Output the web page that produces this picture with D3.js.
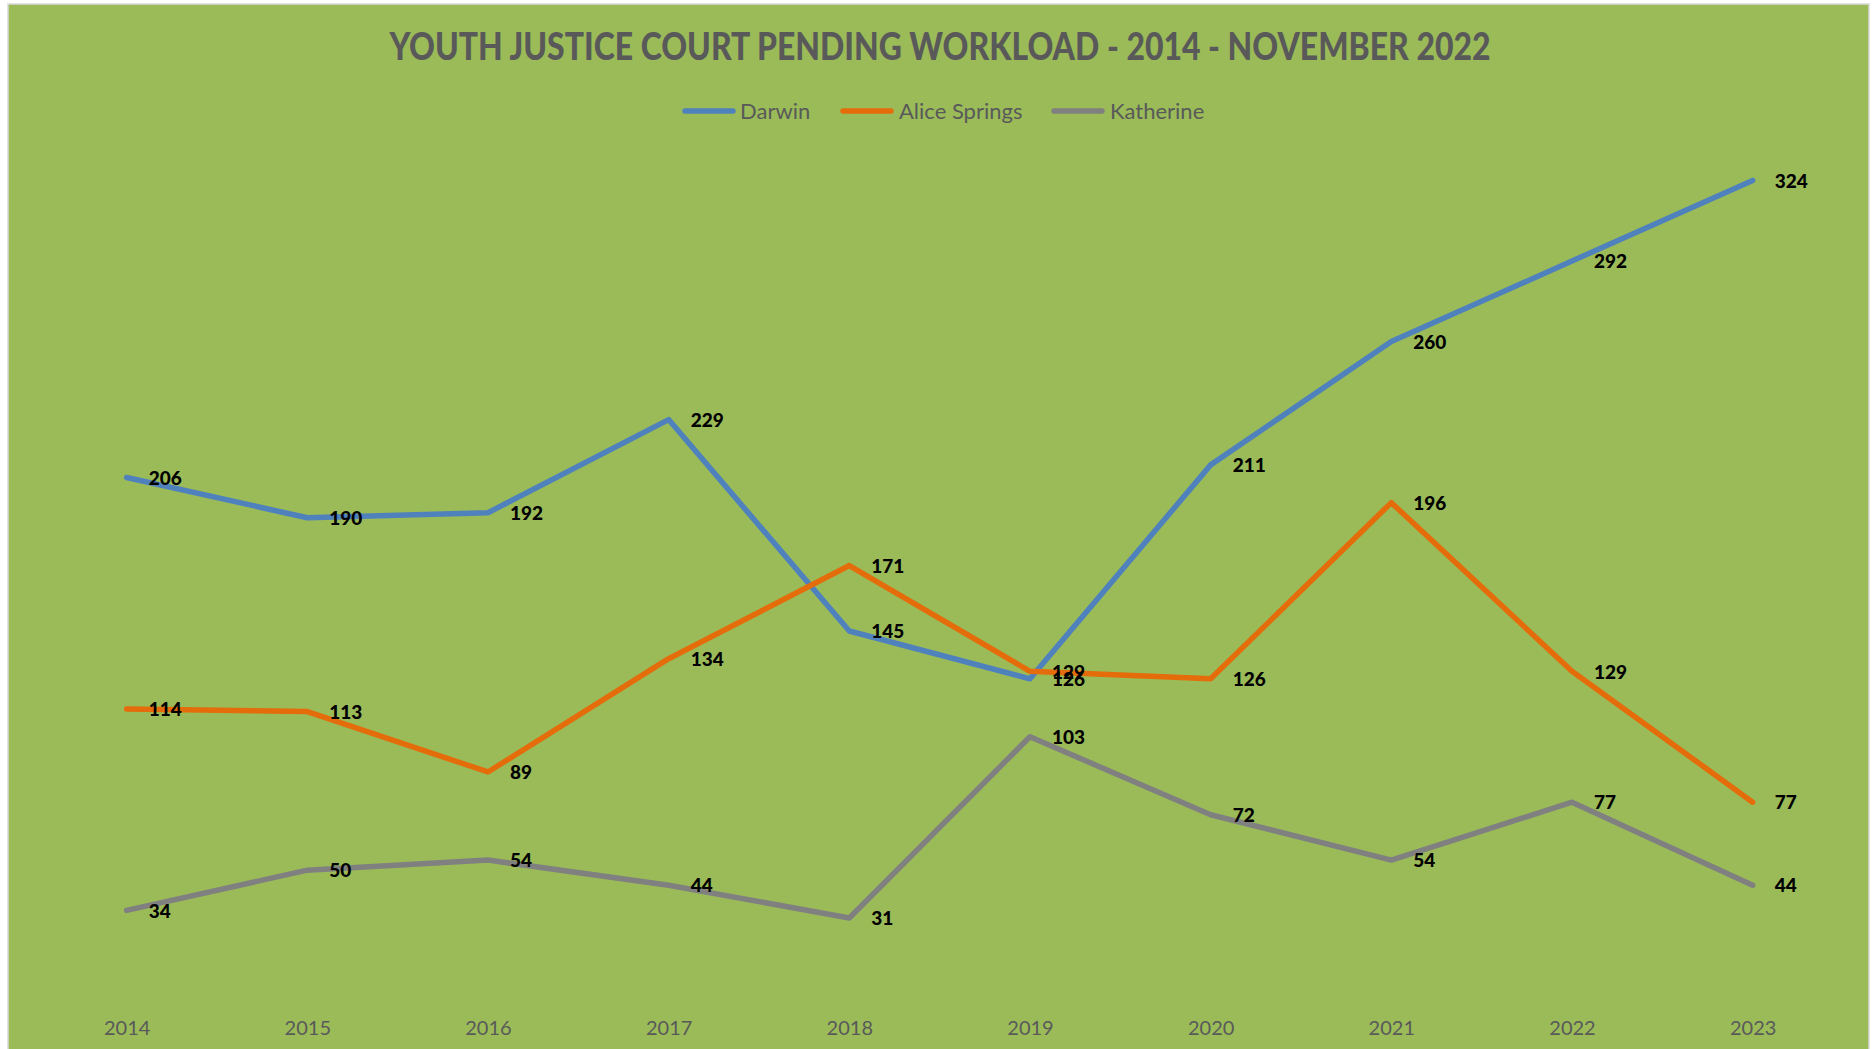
<!DOCTYPE html>
<html>
<head>
<meta charset="utf-8">
<script src="https://cdn.jsdelivr.net/npm/d3@7"></script>
<style>
html,body{margin:0;padding:0;background:#fff;overflow:hidden;}
svg{display:block;}
</style>
</head>
<body>
<svg id="chart" width="1872" height="1049"></svg>
<script>
const years = ["2014","2015","2016","2017","2018","2019","2020","2021","2022","2023"];
const darwin = [206,190,192,229,145,126,211,260,292,324];
const aliceSprings = [114,113,89,134,171,129,126,196,129,77];
const katherine = [34,50,54,44,31,103,72,54,77,44];
const seriesNames = ["Darwin","Alice Springs","Katherine"];
const seriesColors = ["#4F81BD","#E46C0A","#808080"];
const titleText = "YOUTH JUSTICE COURT PENDING WORKLOAD - 2014 - NOVEMBER 2022";

const series = [darwin, aliceSprings, katherine].map((v,i)=>({name:seriesNames[i], color:seriesColors[i], values:v}));

const svg = d3.select("#chart");
const W = 1872, H = 1049;

// chart background
svg.append("rect").attr("x",8).attr("y",4).attr("width",1861).attr("height",H)
  .attr("fill","#9BBB59").attr("stroke","#D9D9D9").attr("stroke-width",1.5);

const x = d3.scalePoint().domain(years).range([36.3, 1843]).padding(0.5);
const y = d3.scaleLinear().domain([0,350]).range([996,115]);

// title
svg.append("text").attr("x",940).attr("y",60).attr("text-anchor","middle")
  .attr("font-family","Lato, 'Open Sans', sans-serif").attr("font-weight","900")
  .attr("font-size",37).attr("fill","#595959")
  .attr("textLength",1101).attr("lengthAdjust","spacingAndGlyphs")
  .text(titleText);

// legend
const legendItems = [
  {lx:683, tx:740},
  {lx:841, tx:899},
  {lx:1052, tx:1110}
];
const lg = svg.append("g");
series.forEach((s,i)=>{
  const it = legendItems[i];
  lg.append("line").attr("x1",it.lx+2).attr("x2",it.lx+50).attr("y1",111).attr("y2",111)
    .attr("stroke",s.color).attr("stroke-width",5.5).attr("stroke-linecap","round");
  lg.append("text").attr("x",it.tx).attr("y",119)
    .attr("font-family","Lato, 'Open Sans', sans-serif").attr("font-size",22)
    .attr("fill","#595959").text(s.name);
});

// x axis labels
const xAxis = d3.axisBottom(x).tickSize(0).tickPadding(0);
const ax = svg.append("g").attr("transform","translate(0,1035)").call(xAxis);
ax.select(".domain").remove();
ax.selectAll("text").attr("font-family","Lato, 'Open Sans', sans-serif")
  .attr("font-size",20).attr("fill","#595959").attr("dy",0);

// lines
const line = d3.line().x((d,i)=>x(years[i])).y(d=>y(d));
series.forEach(s=>{
  svg.append("path").datum(s.values).attr("d",line)
    .attr("fill","none").attr("stroke",s.color).attr("stroke-width",5.5)
    .attr("stroke-linejoin","round").attr("stroke-linecap","round");
});

// data labels
series.forEach(s=>{
  svg.append("g").selectAll("text").data(s.values).join("text")
    .attr("x",(d,i)=>x(years[i])+22)
    .attr("y",d=>y(d))
    .attr("dy","0.38em")
    .attr("font-family","Lato, 'Open Sans', sans-serif").attr("font-weight","900")
    .attr("font-size",19).attr("fill","#000")
    .text(d=>d);
});
</script>
</body>
</html>
